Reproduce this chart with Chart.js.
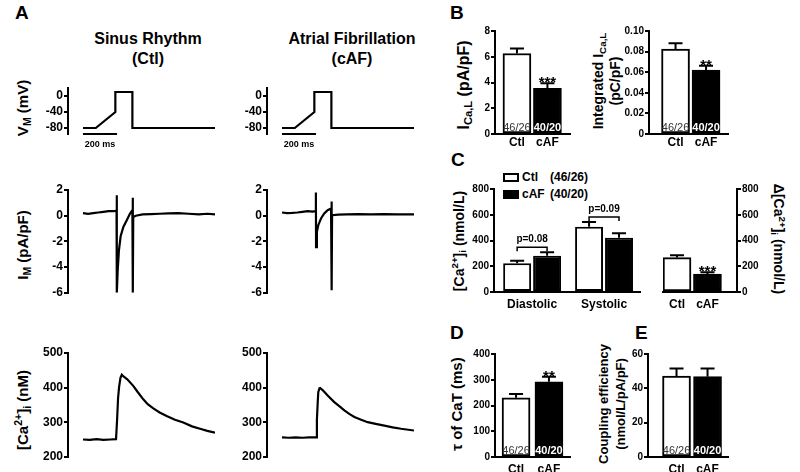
<!DOCTYPE html>
<html>
<head>
<meta charset="utf-8">
<script src="https://cdn.jsdelivr.net/npm/chart.js"></script>
<style>
  body { margin: 0; background: #fff; }
  #figura { position: relative; width: 800px; height: 472px; overflow: hidden; background: #fff;
    font-family: "Liberation Sans", Arial, sans-serif; font-weight: bold; color: #000; }
  #figura canvas { position: absolute; }
  .letra { position: absolute; font-size: 19px; line-height: 1; }
  .titulo { position: absolute; font-size: 16px; line-height: 20px; text-align: center; transform: translateX(-50%); white-space: nowrap; }
  .rot { position: absolute; white-space: nowrap; text-align: center; line-height: 17px;
    transform: translate(-50%, -50%) rotate(-90deg); }
  .rot.dir { transform: translate(-50%, -50%) rotate(90deg); }
  sub, sup { font-size: 0.7em; line-height: 0; }
  sub { vertical-align: -0.3em; }
  sup { vertical-align: 0.55em; }
  #legendaC { position: absolute; left: 503px; top: 170px; font-size: 12px; }
  .itemLegenda { position: absolute; left: 0; height: 14px; line-height: 14px; white-space: nowrap; }
  .caixa { display: inline-block; width: 16px; height: 9px; box-sizing: border-box; border: 2px solid #000; vertical-align: -1px; margin-right: 3px; }
  .nome { display: inline-block; width: 28px; }
</style>
</head>
<body>
<div id="figura">
  <div class="letra" style="left:15px;top:3px">A</div>
  <div class="letra" style="left:450px;top:3px">B</div>
  <div class="letra" style="left:451px;top:150px">C</div>
  <div class="letra" style="left:450px;top:323px">D</div>
  <div class="letra" style="left:635px;top:323px">E</div>

  <div class="titulo" style="left:148px;top:29px">Sinus Rhythm<br>(Ctl)</div>
  <div class="titulo" style="left:352px;top:29px">Atrial Fibrillation<br>(cAF)</div>

  <div class="rot" style="left:22px;top:108px;font-size:15px">V<sub>M</sub> (mV)</div>
  <div class="rot" style="left:22px;top:245px;font-size:15px">I<sub>M</sub> (pA/pF)</div>
  <div class="rot" style="left:22px;top:410px;font-size:15px">[Ca<sup>2+</sup>]<sub>i</sub> (nM)</div>
  <div class="rot" style="left:463px;top:85px;font-size:16px">I<sub>Ca,L</sub> (pA/pF)</div>
  <div class="rot" style="left:607px;top:81px;font-size:14px">Integrated I<sub>Ca,L</sub><br>(pC/pF)</div>
  <div class="rot" style="left:459px;top:241px;font-size:14px">[Ca<sup>2+</sup>]<sub>i</sub> (nmol/L)</div>
  <div class="rot dir" style="left:778px;top:239px;font-size:14px">&Delta;[Ca<sup>2+</sup>]<sub>i</sub> (nmol/L)</div>
  <div class="rot" style="left:456px;top:404px;font-size:15px">&tau; of CaT (ms)</div>
  <div class="rot" style="left:612px;top:404px;font-size:13px">Coupling efficiency<br>(nmol/L/pA/pF)</div>

  <div id="legendaC"></div>
</div>
<script>
// ---- dados ----
// registros (tempo em ms, valor)
const vmProtocolo = [[0, -80], [75, -80], [190, -40], [190, 10], [290, 10], [290, -80], [775, -80]];
const imCtl = [[0, 0.2], [30, 0.15], [60, 0.2], [90, 0.25], [120, 0.3], [150, 0.35], [180, 0.35], [197, 0.4],
  [198, 1.6], [199, -6], [204, -4.2], [211, -2.7], [221, -1.6], [237, -0.87], [257, -0.35], [276, 0.17], [290, 0.43],
  [292, 1.4], [293, -6], [295, -0.1], [310, 0.0], [350, 0.1], [400, 0.12], [450, 0.15], [500, 0.18], [560, 0.2],
  [620, 0.15], [680, 0.1], [730, 0.15], [775, 0.1]];
const imCaf = [[0, 0.25], [30, 0.2], [60, 0.22], [90, 0.25], [120, 0.3], [150, 0.35], [180, 0.32], [198, 0.35],
  [199, 1.8], [200, -2.45], [205, -1.25], [213, -0.74], [229, -0.22], [248, 0.17], [268, 0.43], [288, 0.56],
  [291, 1.1], [292, -5.8], [294, 0.04], [330, 0.08], [380, 0.1], [450, 0.12], [520, 0.1], [600, 0.12], [680, 0.1], [775, 0.1]];
const caCtlRegistro = [[0, 250], [40, 249], [80, 251], [120, 249], [160, 250], [194, 251], [200, 305], [206, 370],
  [212, 402], [220, 428], [228, 437], [236, 433], [260, 424], [295, 405], [320, 388], [354, 366], [380, 352],
  [413, 340], [450, 328], [491, 318], [540, 307], [589, 299], [640, 288], [687, 281], [730, 275], [775, 270]];
const caCafRegistro = [[0, 256], [40, 255], [80, 256], [120, 255], [160, 256], [200, 256], [205, 307], [210, 360],
  [213, 387], [220, 398], [224, 399], [240, 392], [268, 377], [307, 358], [340, 345], [366, 334], [395, 324],
  [425, 315], [465, 307], [503, 300], [550, 295], [601, 290], [650, 285], [699, 281], [775, 276]];

// barras (media e erro padrao)
const grupos = ['Ctl', 'cAF'];
const celulas = ['46/26', '40/20'];
const icaL = [6.25, 3.55];
const icaLErro = [0.4, 0.39];
const icaLEstrelas = ['', '***'];
const icaLIntegrada = [0.0825, 0.062];
const icaLIntegradaErro = [0.0055, 0.0043];
const icaLIntegradaEstrelas = ['', '**'];
const fases = ['Diastolic', 'Systolic'];
const caCtl = [223, 507];
const caCtlErro = [20, 37];
const caCaf = [282, 422];
const caCafErro = [26, 34];
const deltaCa = [267, 140];
const deltaCaErro = [18, 13];
const deltaCaEstrelas = ['', '***'];
const tauCaT = [230, 292];
const tauCaTErro = [15, 20];
const tauCaTEstrelas = ['', '**'];
const acoplamento = [47.2, 46.8];
const acoplamentoErro = [4.3, 4.7];

// ---- configuracao geral ----
Chart.defaults.font.family = '"Liberation Sans", Arial, sans-serif';
Chart.defaults.font.weight = 'bold';
Chart.defaults.font.size = 10;
Chart.defaults.color = '#000';
Chart.defaults.animation = false;
Chart.defaults.plugins.legend.display = false;
Chart.defaults.plugins.tooltip.enabled = false;

const figura = document.getElementById('figura');
const LARGURA_EIXO = 36;
const ALTURA_EIXO_X = 22;
const cores = ['#fff', '#000'];

// desenha barras de erro, asteriscos, n de celulas, colchetes e barra de escala
const enfeites = {
  id: 'enfeites',
  afterDatasetsDraw(chart, args, op) {
    const { ctx, chartArea } = chart;
    const y = chart.scales.y;
    const topos = [];
    ctx.save();
    ctx.textAlign = 'center';
    ctx.strokeStyle = '#000';
    chart.data.datasets.forEach((ds, i) => {
      if (!ds.erro) return;
      topos[i] = [];
      chart.getDatasetMeta(i).data.forEach((barra, j) => {
        const yErro = y.getPixelForValue(ds.data[j].y + ds.erro[j]);
        topos[i][j] = yErro;
        ctx.lineWidth = 2;
        ctx.beginPath();
        ctx.moveTo(barra.x, barra.y);
        ctx.lineTo(barra.x, yErro);
        ctx.moveTo(barra.x - 7, yErro);
        ctx.lineTo(barra.x + 7, yErro);
        ctx.stroke();
        if (ds.estrelas && ds.estrelas[j]) {
          ctx.fillStyle = '#000';
          ctx.font = 'bold 15px "Liberation Sans", Arial';
          ctx.fillText(ds.estrelas[j], barra.x, yErro + 4);
        }
        if (ds.n) {
          const preta = (Array.isArray(ds.backgroundColor) ? ds.backgroundColor[j] : ds.backgroundColor) === '#000';
          ctx.fillStyle = preta ? '#fff' : '#333';
          ctx.font = (preta ? 'bold ' : '') + '11px "Liberation Sans", Arial';
          ctx.fillText(ds.n[j], barra.x, chartArea.bottom - 3);
        }
      });
    });
    (op.colchetes || []).forEach((c) => {
      const a = chart.getDatasetMeta(0).data[c.indice];
      const b = chart.getDatasetMeta(1).data[c.indice];
      const topo = Math.min(topos[0][c.indice], topos[1][c.indice]) - 5;
      ctx.lineWidth = 1.5;
      ctx.beginPath();
      ctx.moveTo(a.x, topo + 4);
      ctx.lineTo(a.x, topo);
      ctx.lineTo(b.x, topo);
      ctx.lineTo(b.x, topo + 4);
      ctx.stroke();
      ctx.fillStyle = '#000';
      ctx.font = 'bold 10px "Liberation Sans", Arial';
      ctx.fillText(c.texto, (a.x + b.x) / 2, topo - 5);
    });
    if (op.escala) {
      const x0 = chart.scales.x.getPixelForValue(0);
      const x1 = chart.scales.x.getPixelForValue(op.escala);
      ctx.lineWidth = 2;
      ctx.beginPath();
      ctx.moveTo(x0, chartArea.bottom);
      ctx.lineTo(x1, chartArea.bottom);
      ctx.stroke();
      ctx.fillStyle = '#000';
      ctx.font = 'bold 9px "Liberation Sans", Arial';
      ctx.fillText(op.escala + ' ms', (x0 + x1) / 2, chartArea.bottom + 13);
    }
    ctx.restore();
  }
};

function eixoY(min, max, valores, lado, formato, tamanho = 10) {
  return {
    position: lado,
    min: min,
    max: max,
    afterFit: (s) => { s.width = LARGURA_EIXO; },
    afterBuildTicks: (s) => { s.ticks = valores.map((v) => ({ value: v })); },
    border: { display: true, color: '#000', width: 2 },
    grid: { drawOnChartArea: false, color: '#000', lineWidth: 2, tickLength: 4 },
    ticks: { padding: 1, font: { size: tamanho }, callback: formato || ((v) => v) }
  };
}

function eixoXTempo() {
  return { type: 'linear', display: false, min: -88, max: 775 };
}

function eixoXGrupos(nomes, min, max, espaco) {
  return {
    type: 'linear',
    min: min,
    max: max,
    offset: false,
    afterFit: (s) => { s.height = ALTURA_EIXO_X; },
    afterBuildTicks: (s) => { s.ticks = nomes.map((n, i) => ({ value: i + 1 })); },
    border: { display: true, color: '#000', width: 2 },
    grid: { display: false, drawTicks: false, tickLength: 0, offset: false },
    ticks: { padding: espaco, autoSkip: false, maxRotation: 0, font: { size: 12 }, callback: (v, i) => nomes[i] }
  };
}

function linha(pontos) {
  return { data: pontos.map(([x, y]) => ({ x, y })), borderColor: '#000', borderWidth: 2.2, pointRadius: 0, tension: 0 };
}

function dadosBarras(valores) {
  return valores.map((v, i) => ({ x: i + 1, y: v }));
}

// cria o canvas de modo que a area do grafico caia em [esq, topo, dir, base]
function novoGrafico(area, config, lado = 'left', baixo = 8) {
  const [l, t, r, b] = area;
  const altX = config.options.scales.x.display === false ? 0 : ALTURA_EIXO_X;
  const esq = lado === 'left' ? LARGURA_EIXO + 4 : 8;
  const dir = lado === 'left' ? 8 : LARGURA_EIXO + 4;
  const tela = document.createElement('canvas');
  tela.width = r - l + esq + dir;
  tela.height = b - t + 10 + altX + baixo;
  tela.style.left = (l - esq) + 'px';
  tela.style.top = (t - 10) + 'px';
  figura.appendChild(tela);
  config.options.responsive = false;
  config.options.layout = { padding: { left: lado === 'left' ? 4 : 8, right: lado === 'left' ? 8 : 4, top: 10, bottom: baixo } };
  config.plugins = [enfeites];
  return new Chart(tela, config);
}

// ---- painel A ----
[[68, vmProtocolo], [267, vmProtocolo]].forEach(([x0, pontos]) => {
  novoGrafico([x0, 88, x0 + 147, 134], {
    type: 'line',
    data: { datasets: [linha(pontos)] },
    options: { scales: { x: eixoXTempo(), y: eixoY(-95, 20, [-80, -40, 0], 'left', null, 12) }, plugins: { enfeites: { escala: 200 } } }
  }, 'left', 18);
});
[[68, imCtl], [267, imCaf]].forEach(([x0, pontos]) => {
  novoGrafico([x0, 190, x0 + 147, 293], {
    type: 'line',
    data: { datasets: [linha(pontos)] },
    options: { scales: { x: eixoXTempo(), y: eixoY(-6, 2, [-6, -4, -2, 0, 2], 'left', null, 12) } }
  });
});
[[68, caCtlRegistro], [267, caCafRegistro]].forEach(([x0, pontos]) => {
  novoGrafico([x0, 353, x0 + 147, 457], {
    type: 'line',
    data: { datasets: [linha(pontos)] },
    options: { scales: { x: eixoXTempo(), y: eixoY(200, 500, [200, 300, 400, 500], 'left', null, 12) } }
  });
});

// ---- painel B ----
function barrasSimples(valores, erros, estrelas, comN) {
  return {
    data: dadosBarras(valores), erro: erros, estrelas: estrelas, n: comN ? celulas : null,
    backgroundColor: cores, borderColor: '#000', borderWidth: 2, borderSkipped: false, barThickness: 28
  };
}

novoGrafico([495, 31, 570, 134], {
  type: 'bar',
  data: { datasets: [barrasSimples(icaL, icaLErro, icaLEstrelas, true)] },
  options: { scales: { x: eixoXGrupos(grupos, 0.28, 2.74, 1), y: eixoY(0, 8, [0, 2, 4, 6, 8], 'left') } }
});
novoGrafico([649, 31, 728, 134], {
  type: 'bar',
  data: { datasets: [barrasSimples(icaLIntegrada, icaLIntegradaErro, icaLIntegradaEstrelas, true)] },
  options: { scales: { x: eixoXGrupos(grupos, 0.13, 2.72, 1),
    y: eixoY(0, 0.1, [0, 0.02, 0.04, 0.06, 0.08, 0.1], 'left', (v) => (v === 0 ? '0' : v.toFixed(2))) } }
});

// ---- painel C ----
const graficoC = novoGrafico([494, 189, 640, 292], {
  type: 'bar',
  data: {
    datasets: [
      { label: 'Ctl', celulas: celulas[0], data: dadosBarras(caCtl), erro: caCtlErro, backgroundColor: '#fff',
        borderColor: '#000', borderWidth: 2, borderSkipped: false, categoryPercentage: 0.833, barPercentage: 0.933 },
      { label: 'cAF', celulas: celulas[1], data: dadosBarras(caCaf), erro: caCafErro, backgroundColor: '#000',
        borderColor: '#000', borderWidth: 2, borderSkipped: false, categoryPercentage: 0.833, barPercentage: 0.933 }
    ]
  },
  options: {
    scales: { x: eixoXGrupos(fases, 0.47, 2.5, 5), y: eixoY(0, 800, [0, 200, 400, 600, 800], 'left') },
    plugins: { enfeites: { colchetes: [{ indice: 0, texto: 'p=0.08' }, { indice: 1, texto: 'p=0.09' }] } }
  }
});
novoGrafico([663, 189, 737, 292], {
  type: 'bar',
  data: { datasets: [barrasSimples(deltaCa, deltaCaErro, deltaCaEstrelas, false)] },
  options: { scales: { x: eixoXGrupos(grupos, 0.54, 2.97, 5), y: eixoY(0, 800, [0, 200, 400, 600, 800], 'right') } }
}, 'right');

// legenda do painel C a partir dos datasets
const legenda = document.getElementById('legendaC');
graficoC.data.datasets.forEach((ds, i) => {
  const item = document.createElement('div');
  item.className = 'itemLegenda';
  item.style.top = (i * 17) + 'px';
  item.innerHTML = '<span class="caixa" style="background:' + ds.backgroundColor + '"></span>' +
    '<span class="nome">' + ds.label + '</span><span>(' + ds.celulas + ')</span>';
  legenda.appendChild(item);
});

// ---- paineis D e E ----
novoGrafico([495, 354, 570, 457], {
  type: 'bar',
  data: { datasets: [barrasSimples(tauCaT, tauCaTErro, tauCaTEstrelas, true)] },
  options: { scales: { x: eixoXGrupos(grupos, 0.36, 2.64, 5), y: eixoY(0, 400, [0, 100, 200, 300, 400], 'left') } }
}, 'left', 2);
novoGrafico([648, 354, 728, 457], {
  type: 'bar',
  data: { datasets: [barrasSimples(acoplamento, acoplamentoErro, null, true)] },
  options: { scales: { x: eixoXGrupos(grupos, 0.08, 2.66, 5), y: eixoY(0, 60, [0, 20, 40, 60], 'left') } }
}, 'left', 2);
</script>
</body>
</html>
